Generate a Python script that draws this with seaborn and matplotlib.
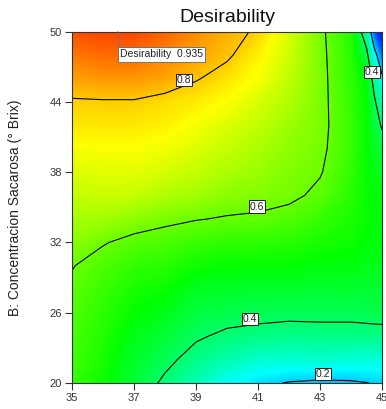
import numpy as np
import matplotlib
matplotlib.use("Agg")
import matplotlib.pyplot as plt
import seaborn as sns

# ---- data ----
x_levels = [35, 36, 37, 38, 39, 40, 41, 42, 43, 44, 44.5, 44.75, 45]
y_levels = [20, 22, 24, 26, 28, 30, 32, 34, 36, 38, 40, 42, 44, 46, 48, 50]

d_x35 = [0.55, 0.56, 0.568, 0.578, 0.588, 0.603, 0.633, 0.66, 0.688, 0.715, 0.742, 0.77, 0.793, 0.84, 0.88, 0.92]
d_x36 = [0.51, 0.52, 0.53, 0.54, 0.552, 0.572, 0.605, 0.655, 0.695, 0.72, 0.745, 0.77, 0.795, 0.85, 0.893, 0.933]
d_x37 = [0.45, 0.465, 0.48, 0.5, 0.52, 0.545, 0.58, 0.635, 0.69, 0.72, 0.745, 0.77, 0.795, 0.85, 0.893, 0.93]
d_x38 = [0.385, 0.42, 0.45, 0.48, 0.505, 0.535, 0.57, 0.615, 0.668, 0.705, 0.735, 0.76, 0.78, 0.835, 0.87, 0.9]
d_x39 = [0.32, 0.37, 0.41, 0.44, 0.47, 0.51, 0.552, 0.603, 0.655, 0.69, 0.715, 0.74, 0.765, 0.805, 0.84, 0.86]
d_x40 = [0.26, 0.33, 0.385, 0.43, 0.465, 0.5, 0.54, 0.595, 0.63, 0.665, 0.69, 0.715, 0.745, 0.775, 0.81, 0.825]
d_x41 = [0.22, 0.3, 0.375, 0.423, 0.46, 0.5, 0.54, 0.59, 0.625, 0.648, 0.668, 0.688, 0.71, 0.74, 0.76, 0.79]
d_x42 = [0.195, 0.295, 0.365, 0.42, 0.46, 0.5, 0.535, 0.575, 0.615, 0.622, 0.635, 0.65, 0.67, 0.685, 0.70, 0.71]
d_x43 = [0.185, 0.3, 0.37, 0.42, 0.455, 0.49, 0.52, 0.55, 0.585, 0.605, 0.615, 0.62, 0.62, 0.62, 0.618, 0.615]
d_x44 = [0.19, 0.29, 0.37, 0.42, 0.46, 0.49, 0.51, 0.525, 0.535, 0.545, 0.55, 0.55, 0.545, 0.54, 0.535, 0.53]
d_x44_5 = [0.198, 0.29, 0.37, 0.425, 0.455, 0.48, 0.495, 0.505, 0.505, 0.5, 0.5, 0.5, 0.5, 0.49, 0.43, 0.33]
d_x44_75 = [0.205, 0.285, 0.37, 0.428, 0.455, 0.478, 0.492, 0.5, 0.497, 0.485, 0.47, 0.445, 0.415, 0.36, 0.25, 0.08]
d_x45 = [0.21, 0.29, 0.37, 0.43, 0.45, 0.475, 0.49, 0.495, 0.49, 0.47, 0.44, 0.39, 0.33, 0.22, 0.1, 0.0]

contour_levels = [0.2, 0.4, 0.6, 0.8]
label_spots = [(38.6, 45.4), (40.96, 34.8), (40.74, 25.1), (43.1, 20.2), (44.6, 46.0)]
x_ticks = [35, 37, 39, 41, 43, 45]
y_ticks = [20, 26, 32, 38, 44, 50]
title_text = "Desirability"
y_label = "B: Concentracion Sacarosa (° Brix)"
flag_text = "Desirability  0.935"
flag_point = (36.48, 50)

# ---- style ----
sns.set_theme(style="ticks")
plt.rcParams['font.family'] = ['Liberation Sans', 'DejaVu Sans']

cmap = sns.blend_palette(["#0000ff", "#00ffff", "#00ff00", "#ffff00", "#ff0000"], as_cmap=True)

Z = np.column_stack([d_x35, d_x36, d_x37, d_x38, d_x39, d_x40, d_x41, d_x42,
                     d_x43, d_x44, d_x44_5, d_x44_75, d_x45])
X, Y = np.meshgrid(x_levels, y_levels)

fig = plt.figure(figsize=(3.86, 4.09), dpi=100)
ax = fig.add_axes([0.18653, 0.06357, 0.80311, 0.85941])

ax.contourf(X, Y, Z, levels=np.linspace(0, 1, 256), cmap=cmap, vmin=0, vmax=1,
            antialiased=False)
cs = ax.contour(X, Y, Z, levels=contour_levels, colors='black', linewidths=0.8)
texts = ax.clabel(cs, fmt='%.1f', fontsize=7.5, inline=False, manual=label_spots)
for t in texts:
    t.set_rotation(0)
    xx, yy = t.get_position()
    t.set_position((xx, yy + 0.5))
    t.set_bbox(dict(boxstyle='square,pad=0.1', fc='white', ec='black', lw=0.6))
    t.set_color('#222222')

ax.annotate(flag_text, xy=flag_point, xytext=(1.4, -16.5), textcoords='offset points',
            ha='left', va='center', fontsize=7.5, color='#222222',
            bbox=dict(boxstyle='square,pad=0.2', fc='white', ec='#666666', lw=0.6),
            arrowprops=dict(arrowstyle='-', color='#777777', lw=0.6,
                            shrinkA=0, shrinkB=0, relpos=(0, 1)))

ax.set_xlim(35, 45)
ax.set_ylim(20, 50)
ax.set_xticks(x_ticks)
ax.set_yticks(y_ticks)
ax.tick_params(direction='out', length=5, width=0.8, labelsize=8, colors='#333333',
               pad=2)
for s in ax.spines.values():
    s.set_linewidth(0.8)
    s.set_color('#333333')

ax.set_title(title_text, fontsize=14, pad=7, color='#111111')
ax.set_ylabel(y_label, fontsize=10, color='#222222')
ax.yaxis.set_label_coords(-0.16, 0.5)

fig.savefig("out.png", dpi=100)
